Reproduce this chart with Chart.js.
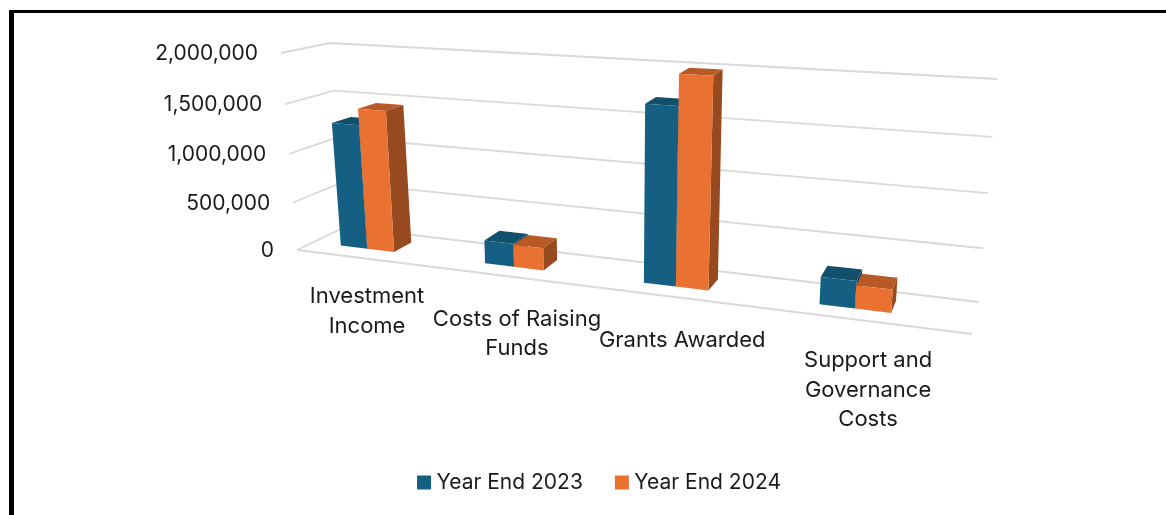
<!DOCTYPE html>
<html lang="en">
<head>
    <meta charset="UTF-8">
    <title>Income and Expenditure</title>
    <script src="https://cdn.jsdelivr.net/npm/chart.js@4"></script>
    <style>
        html, body {
            margin: 0;
            padding: 0;
            background-color: white;
            overflow: hidden;
        }
        .frame {
            position: absolute;
            left: 9px;
            top: 10px;
            right: 0;
            bottom: 0;
            border-top: 3px solid black;
            border-left: 5px solid black;
        }
        canvas {
            position: absolute;
            left: 0;
            top: 0;
        }
    </style>
</head>
<body>
    <div class="frame"></div>
    <canvas id="barChart" width="1166" height="515"></canvas>

    <script>
        const categories = [
            ['Investment', 'Income'],
            ['Costs of Raising', 'Funds'],
            ['Grants Awarded'],
            ['Support and', 'Governance', 'Costs']
        ];
        const yearEnd2023 = [1285000, 235000, 1700000, 255000];
        const yearEnd2024 = [1450000, 225000, 1990000, 215000];

        const fontFamily = 'Inter, sans-serif';
        const gridColor = '#d9d9d9';
        const textColor = '#1a1a1a';

        // Corners of the 3D plot box on the canvas: [left/right][bottom/top], front and back
        const box = {
            front: { lb: [297, 250], lt: [281, 53], rb: [972, 334], rt: [991, 98] },
            back: { lb: [345, 227], lt: [330, 43], rb: [979, 302], rt: [997, 79] }
        };
        const barDepth = [0.34, 0.74];

        // Small per-label corrections [x, y] for the category text
        const labelNudge = [[0, -2], [0, 2], [0, 2], [3, 0]];

        const mix = (a, b, t) => [a[0] + (b[0] - a[0]) * t, a[1] + (b[1] - a[1]) * t];
        const foreshorten = (t, k) => t / (1 + k * (1 - t));

        // u runs along the categories, v up the value axis, w from front to back (all 0..1)
        function project(u, v, w) {
            const h = foreshorten(v, 0.05);
            const face = f => mix(mix(f.lb, f.rb, u), mix(f.lt, f.rt, u), h);
            return mix(face(box.front), face(box.back), w);
        }

        // Categories sit a little left of centre and widen towards the viewer
        const floorU = u => foreshorten(u, 0.22) * 0.988 - 0.022;

        function fillPoly(ctx, color, points) {
            ctx.fillStyle = color;
            ctx.beginPath();
            points.forEach((p, i) => i ? ctx.lineTo(p[0], p[1]) : ctx.moveTo(p[0], p[1]));
            ctx.closePath();
            ctx.fill();
        }

        function strokeLine(ctx, points) {
            ctx.beginPath();
            points.forEach((p, i) => i ? ctx.lineTo(p[0], p[1]) : ctx.moveTo(p[0], p[1]));
            ctx.stroke();
        }

        const perspectivePlugin = {
            id: 'perspective',
            // Bars are replaced by projected boxes, so the flat ones are never drawn
            beforeDatasetsDraw(chart) {
                const ctx = chart.ctx;
                const xs = chart.scales.x;
                const ys = chart.scales.y;
                const toV = px => (ys.bottom - px) / ys.height;
                const toU = px => (px - xs.left) / xs.width;

                ctx.save();

                // Walls and floor
                ctx.strokeStyle = gridColor;
                ctx.lineWidth = 1.8;
                ys.ticks.forEach(tick => {
                    const v = toV(ys.getPixelForValue(tick.value));
                    strokeLine(ctx, [project(0, v, 0), project(0, v, 1), project(1, v, 1)]);
                });
                strokeLine(ctx, [project(0, 0, 0), project(1, 0, 0)]);

                // Value labels follow the front left edge
                ctx.fillStyle = textColor;
                ctx.font = '21px ' + fontFamily;
                ctx.textAlign = 'right';
                ctx.textBaseline = 'middle';
                ys.ticks.forEach(tick => {
                    const p = project(0, toV(ys.getPixelForValue(tick.value)), 0);
                    ctx.fillText(tick.label, p[0] - 23, p[1] + 1);
                });

                // Category labels hang below the front edge
                ctx.font = '22px ' + fontFamily;
                ctx.textAlign = 'center';
                categories.forEach((lines, i) => {
                    const p = project(floorU(toU(xs.getPixelForValue(i))), 0, 0);
                    lines.forEach((line, n) => {
                        ctx.fillText(line, p[0] + 15 + labelNudge[i][0], p[1] + 42 + labelNudge[i][1] + n * 29.3);
                    });
                });

                // Bars, one series at a time so the later one overlaps
                chart.data.datasets.forEach((dataset, d) => {
                    chart.getDatasetMeta(d).data.forEach(bar => {
                        const u0 = floorU(toU(bar.x - bar.width / 2));
                        const u1 = floorU(toU(bar.x + bar.width / 2));
                        const v0 = toV(bar.base);
                        const v1 = toV(bar.y);
                        const [w0, w1] = barDepth;
                        fillPoly(ctx, dataset.sideColor, [project(u1, v0, w0), project(u1, v0, w1), project(u1, v1, w1), project(u1, v1, w0)]);
                        fillPoly(ctx, dataset.topColor, [project(u0, v1, w0), project(u1, v1, w0), project(u1, v1, w1), project(u0, v1, w1)]);
                        fillPoly(ctx, dataset.backgroundColor, [project(u0, v0, w0), project(u1, v0, w0), project(u1, v1, w0), project(u0, v1, w0)]);
                    });
                });

                ctx.restore();
                return false;
            }
        };

        new Chart(document.getElementById('barChart'), {
            type: 'bar',
            data: {
                labels: categories,
                datasets: [
                    {
                        label: 'Year End 2023',
                        data: yearEnd2023,
                        backgroundColor: '#156082',
                        sideColor: '#0f4761',
                        topColor: '#114f6b',
                        // the thick border pads the legend swatch out to size
                        borderColor: '#156082',
                        borderWidth: 10
                    },
                    {
                        label: 'Year End 2024',
                        data: yearEnd2024,
                        backgroundColor: '#e97132',
                        sideColor: '#974a20',
                        topColor: '#b85a27',
                        borderColor: '#e97132',
                        borderWidth: 10
                    }
                ]
            },
            options: {
                responsive: false,
                animation: false,
                layout: {
                    padding: { left: 37, right: 0, top: 20, bottom: 12 }
                },
                datasets: {
                    bar: { categoryPercentage: 0.38, barPercentage: 1 }
                },
                scales: {
                    x: { display: false },
                    y: {
                        display: false,
                        min: 0,
                        max: 2000000,
                        ticks: { stepSize: 500000, autoSkip: false }
                    }
                },
                plugins: {
                    title: { display: false },
                    tooltip: { enabled: false },
                    legend: {
                        position: 'bottom',
                        labels: {
                            boxWidth: 4,
                            boxHeight: 4,
                            padding: 37,
                            color: textColor,
                            font: { family: fontFamily, size: 21 }
                        }
                    }
                }
            },
            plugins: [perspectivePlugin]
        });
    </script>
</body>
</html>
